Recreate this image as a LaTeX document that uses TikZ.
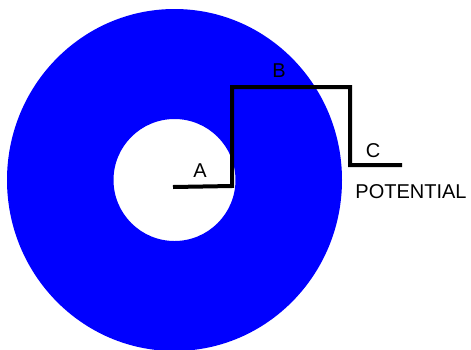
\documentclass[tikz,border=0pt]{standalone}
\usepackage{fontspec}
\setmainfont{Liberation Sans}
\usetikzlibrary{calc}

\begin{document}
\begin{tikzpicture}[x=1pt, y=-1pt, font=\fontsize{20}{24}\selectfont,
  lbl/.style={inner sep=0pt}]
  \useasboundingbox (0,0) rectangle (471,349);
  \coordinate (O) at (174.5,180);

  % ring
  \begin{scope}
    \clip (0,0) rectangle (471,349);
    \fill[blue, even odd rule] (O) ellipse [x radius=167.5, y radius=171]
      (O) circle [radius=61];
  \end{scope}

  \coordinate (A1) at (173,187);
  \coordinate (A2) at (232,186);
  \coordinate (B1) at (232,87);
  \coordinate (B2) at (350,87);
  \coordinate (C1) at (350,165);
  \coordinate (C2) at (402,165);

  \draw[line width=4pt] (A1) -- (A2) -- (B1) -- (B2) -- (C1) -- (C2);

  \node[lbl] (labA) at (200,171) {A};
  \node[lbl] (labB) at (279,71) {B};
  \node[lbl] (labC) at (373,151) {C};
  \node[lbl] (pot) at (411,192) {POTENTIAL};
\end{tikzpicture}
\end{document}
